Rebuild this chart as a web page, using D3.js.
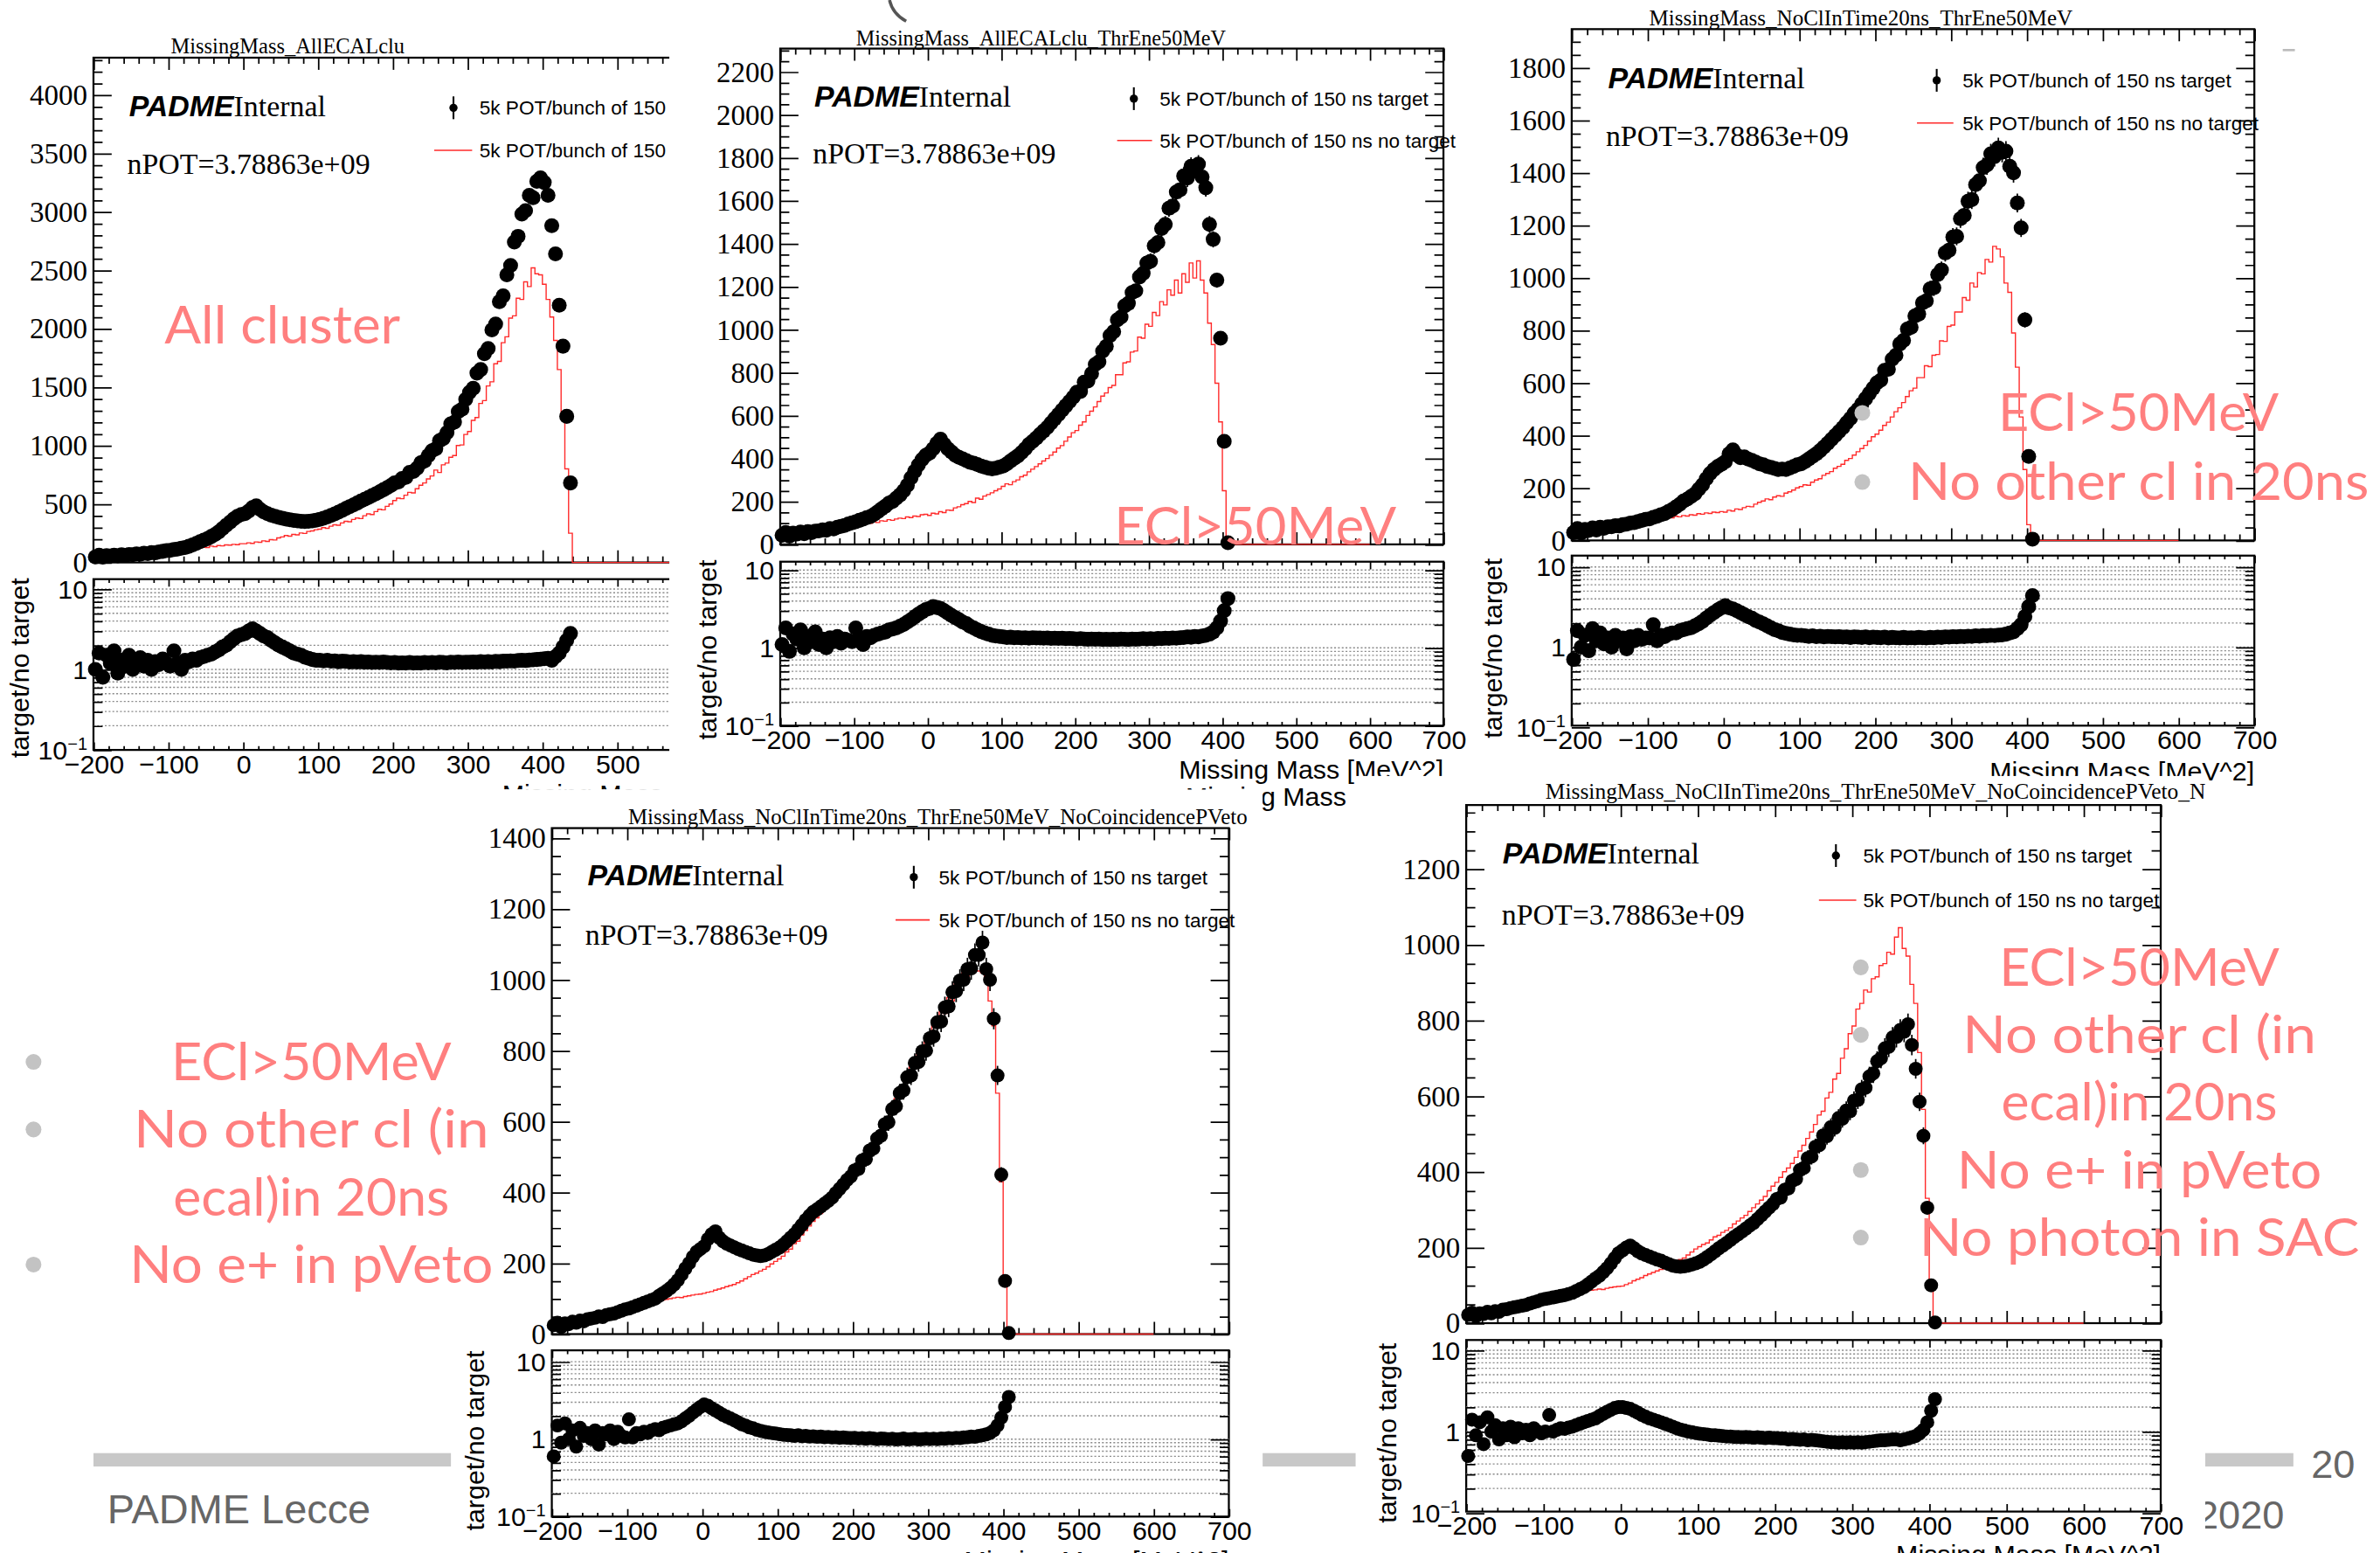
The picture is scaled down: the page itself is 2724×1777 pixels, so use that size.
<!DOCTYPE html>
<html>
<head>
<meta charset="utf-8">
<script src="https://cdn.jsdelivr.net/npm/d3@7"></script>
<style>
body { margin: 0; background: #fff; }
svg { display: block; }
</style>
</head>
<body>
<svg id="slide" width="2724" height="1777" viewBox="0 0 1568 1023"></svg>
<script>
// all histograms share the same binning (5 MeV^2 bins from -200)
var binStart = -200;
var binWidth = 5;
var histEnd = 600;

// ---- panel 1 : MissingMass_AllECALclu
var p1Target = [
  48, 62, 45, 58, 55, 63, 57, 66, 60, 68,
  66, 74, 70, 79, 76, 85, 82, 90, 95, 101,
  104, 110, 115, 122, 128, 138, 150, 163, 178, 192,
  205, 222, 240, 262, 290, 318, 345, 372, 395, 410,
  418, 440, 470, 485, 455, 432, 418, 405, 395, 385,
  378, 370, 365, 360, 356, 352, 350, 352, 355, 362,
  368, 378, 390, 402, 415, 430, 445, 462, 478, 492,
  508, 525, 540, 555, 572, 588, 605, 622, 640, 658,
  680, 688, 718, 728, 770, 778, 806, 852, 868, 915,
  955, 972, 1042, 1060, 1110, 1185, 1200, 1290, 1310, 1395,
  1455, 1490, 1620, 1650, 1785, 1830, 1990, 2040, 2230, 2280,
  2460, 2540, 2740, 2790, 2980, 3010, 3140, 3120, 3260, 3290,
  3250, 3140, 2880, 2640, 2200, 1850, 1250, 680
];
var p1NoTarget = [
  45, 55, 50, 52, 58, 55, 60, 57, 63, 62,
  65, 70, 68, 74, 72, 80, 78, 85, 88, 92,
  95, 100, 98, 108, 105, 112, 118, 115, 125, 130,
  128, 140, 135, 145, 142, 150, 148, 155, 152, 160,
  160, 168, 163, 175, 172, 185, 180, 195, 192, 210,
  218, 230, 225, 240, 236, 252, 248, 265, 270, 280,
  285, 298, 292, 310, 322, 318, 338, 352, 348, 368,
  380, 375, 400, 415, 410, 435, 455, 450, 480, 500,
  530, 550, 545, 575, 600, 595, 630, 660, 680, 715,
  740, 790, 770, 835, 850, 900, 915, 1000, 1005, 1095,
  1120, 1215, 1240, 1360, 1385, 1510, 1545, 1700, 1720, 1880,
  1930, 2090, 2110, 2260, 2250, 2400, 2360, 2520, 2470, 2460,
  2380, 2250, 2100, 1900, 1650, 1250, 800, 250
];
var p1Ratio = [
  1.0, 1.6, 0.8, 1.5, 1.2, 1.7, 0.9, 1.3, 1.1, 1.5,
  1.0, 1.2, 1.4, 1.1, 1.3, 1.0, 1.25, 1.15, 1.35, 1.2,
  1.1, 1.7, 1.2, 1.0, 1.3, 1.25, 1.35, 1.3, 1.4, 1.45,
  1.5, 1.55, 1.65, 1.75, 1.9, 2.0, 2.2, 2.4, 2.6, 2.7,
  2.8, 3.0, 3.2, 3.0, 2.8, 2.6, 2.5, 2.3, 2.15, 2.0,
  1.9, 1.8, 1.7, 1.6, 1.55, 1.5, 1.42, 1.38, 1.33, 1.3,
  1.3, 1.28, 1.3, 1.27, 1.28, 1.25, 1.27, 1.26, 1.24, 1.25,
  1.24, 1.25, 1.23, 1.24, 1.22, 1.23, 1.22, 1.24, 1.22, 1.21,
  1.22, 1.2, 1.21, 1.2, 1.22, 1.2, 1.21, 1.2, 1.22, 1.21,
  1.22, 1.21, 1.23, 1.22, 1.21, 1.23, 1.22, 1.24, 1.22, 1.23,
  1.23, 1.24, 1.23, 1.25, 1.24, 1.25, 1.24, 1.26, 1.25, 1.27,
  1.27, 1.28, 1.27, 1.29, 1.3, 1.29, 1.31, 1.32, 1.33, 1.34,
  1.36, 1.38, 1.3, 1.45, 1.6, 1.9, 2.3, 2.8
];

// ---- panel 2 : MissingMass_AllECALclu_ThrEne50MeV
var p2Target = [
  42, 55, 38, 52, 48, 58, 50, 60, 55, 62,
  63, 68, 66, 74, 72, 80, 84, 88, 95, 100,
  105, 112, 118, 125, 130, 140, 152, 165, 178, 192,
  200, 215, 230, 250, 275, 310, 340, 370, 395, 415,
  425, 445, 470, 490, 465, 445, 430, 415, 405, 398,
  390, 382, 378, 372, 365, 360, 355, 352, 355, 360,
  365, 375, 388, 400, 412, 428, 445, 465, 480, 495,
  512, 528, 545, 565, 585, 605, 625, 645, 665, 685,
  708, 712, 755, 760, 795, 838, 850, 900, 922, 972,
  990, 1045, 1058, 1110, 1122, 1172, 1180, 1245, 1262, 1310,
  1318, 1390, 1405, 1470, 1490, 1565, 1575, 1640, 1650, 1715,
  1705, 1760, 1745, 1770, 1710, 1660, 1490, 1420, 1230, 960,
  480, 8
];
var p2NoTarget = [
  40, 50, 45, 48, 52, 55, 52, 58, 56, 60,
  62, 65, 70, 68, 75, 72, 78, 82, 80, 88,
  90, 95, 92, 100, 98, 105, 102, 110, 108, 115,
  112, 118, 122, 120, 128, 125, 132, 130, 138, 140,
  135, 145, 142, 152, 148, 160, 158, 170, 175, 185,
  190, 200, 195, 215, 210, 225, 232, 240, 250, 258,
  270, 282, 278, 292, 300, 315, 322, 338, 350, 362,
  375, 388, 400, 415, 430, 448, 460, 480, 500, 520,
  530, 555, 570, 600, 620, 640, 665, 690, 705, 730,
  740, 790, 790, 845, 850, 895, 900, 965, 960, 1025,
  1015, 1080, 1065, 1130, 1115, 1185, 1160, 1230, 1170, 1260,
  1220, 1310, 1240, 1320, 1230, 1170, 1030, 930, 750, 570,
  250, 0
];
var p2Ratio = [
  1.1, 1.8, 0.9, 1.5, 1.3, 1.7, 1.0, 1.4, 1.2, 1.6,
  1.1, 1.3, 1.0, 1.35, 1.2, 1.4, 1.15, 1.3, 1.25, 1.2,
  1.8, 1.3, 1.1, 1.4, 1.35, 1.45, 1.5, 1.55, 1.6, 1.7,
  1.75, 1.8, 1.9, 2.0, 2.15, 2.3, 2.5, 2.7, 2.9, 3.1,
  3.2, 3.4, 3.3, 3.2, 3.0, 2.8, 2.6, 2.45, 2.3, 2.15,
  2.05, 1.9, 1.8, 1.7, 1.62, 1.55, 1.5, 1.45, 1.42, 1.4,
  1.38, 1.36, 1.37, 1.35, 1.36, 1.34, 1.35, 1.33, 1.35, 1.34,
  1.34, 1.33, 1.34, 1.32, 1.33, 1.32, 1.33, 1.31, 1.32, 1.31,
  1.3, 1.31, 1.3, 1.29, 1.3, 1.29, 1.3, 1.28, 1.29, 1.28,
  1.29, 1.28, 1.3, 1.29, 1.28, 1.3, 1.29, 1.3, 1.31, 1.3,
  1.31, 1.3, 1.32, 1.31, 1.33, 1.32, 1.34, 1.33, 1.35, 1.36,
  1.38, 1.37, 1.4, 1.38, 1.42, 1.45, 1.5, 1.6, 1.8, 2.2,
  3.0, 4.3
];

// ---- panel 3 : MissingMass_NoClInTime20ns_ThrEne50MeV
var p3Target = [
  30, 45, 28, 42, 38, 48, 40, 50, 46, 52,
  52, 56, 55, 60, 62, 66, 68, 72, 76, 80,
  82, 88, 92, 98, 102, 110, 118, 128, 138, 150,
  158, 168, 178, 195, 212, 235, 255, 270, 282, 290,
  300, 330, 345, 325, 315, 318, 310, 305, 298, 292,
  288, 282, 278, 274, 270, 272, 270, 276, 282, 288,
  292, 300, 310, 320, 330, 342, 356, 370, 385, 400,
  415, 430, 448, 465, 485, 500, 520, 540, 560, 580,
  600, 610, 648, 652, 690, 705, 748, 762, 805, 812,
  855, 862, 905, 912, 958, 962, 1012, 1030, 1095, 1105,
  1155, 1158, 1225, 1238, 1292, 1298, 1355, 1370, 1420, 1430,
  1472, 1462, 1495, 1478, 1482, 1425, 1400, 1285, 1190, 840,
  320, 5
];
var p3NoTarget = [
  30, 40, 35, 38, 42, 40, 45, 43, 48, 50,
  52, 50, 56, 58, 60, 62, 65, 68, 70, 74,
  76, 80, 78, 84, 82, 88, 86, 92, 90, 95,
  93, 98, 96, 102, 100, 105, 103, 108, 106, 110,
  108, 115, 112, 120, 118, 125, 130, 128, 138, 145,
  150, 158, 155, 165, 170, 168, 180, 185, 192, 200,
  205, 212, 210, 222, 230, 235, 248, 255, 262, 275,
  282, 290, 305, 312, 325, 338, 350, 362, 378, 395,
  405, 420, 438, 450, 470, 490, 505, 525, 548, 570,
  580, 620, 620, 665, 662, 705, 708, 760, 758, 815,
  820, 870, 870, 925, 915, 980, 965, 1020, 1015, 1070,
  1060, 1120, 1110, 1080, 980, 945, 790, 660, 470, 270,
  60, 0
];
var p3Ratio = [
  0.7, 1.6, 1.0, 1.4, 0.9, 1.7, 1.2, 1.5, 1.1, 1.3,
  1.0, 1.4, 1.2, 1.3, 0.95, 1.35, 1.2, 1.4, 1.25, 1.3,
  1.3, 1.9, 1.2, 1.4, 1.35, 1.45, 1.5, 1.5, 1.6, 1.65,
  1.7, 1.75, 1.85, 1.95, 2.1, 2.3, 2.5, 2.7, 2.9, 3.1,
  3.3, 3.1, 3.0, 2.85, 2.7, 2.55, 2.4, 2.3, 2.15, 2.05,
  1.95, 1.85, 1.75, 1.65, 1.6, 1.52, 1.48, 1.45, 1.42, 1.4,
  1.4, 1.38, 1.36, 1.38, 1.35, 1.37, 1.34, 1.36, 1.35, 1.34,
  1.35, 1.33, 1.34, 1.32, 1.34, 1.33, 1.32, 1.34, 1.31, 1.33,
  1.32, 1.31, 1.33, 1.3, 1.32, 1.31, 1.3, 1.32, 1.3, 1.31,
  1.3, 1.32, 1.31, 1.3, 1.32, 1.31, 1.33, 1.32, 1.34, 1.33,
  1.35, 1.34, 1.36, 1.35, 1.37, 1.36, 1.38, 1.37, 1.39, 1.38,
  1.4, 1.39, 1.41, 1.42, 1.45, 1.5, 1.55, 1.7, 1.9, 2.4,
  3.2, 4.4
];

// ---- panel 4 : ..._NoCoincidencePVeto
var p4Target = [
  25, 32, 20, 30, 28, 35, 32, 38, 36, 42,
  44, 46, 50, 48, 54, 56, 58, 62, 66, 70,
  72, 76, 80, 84, 88, 92, 96, 100, 108, 115,
  122, 130, 140, 152, 168, 185, 200, 218, 232, 240,
  248, 268, 282, 290, 272, 262, 255, 250, 245, 240,
  236, 232, 228, 224, 222, 220, 222, 226, 232, 238,
  244, 252, 262, 272, 282, 295, 308, 322, 334, 345,
  352, 360, 368, 376, 385, 398, 410, 422, 435, 445,
  462, 466, 490, 494, 518, 524, 552, 560, 592, 598,
  635, 643, 680, 688, 725, 730, 765, 768, 798, 800,
  835, 840, 880, 882, 922, 925, 965, 968, 998, 1000,
  1030, 1032, 1070, 1070, 1105, 1030, 1000, 890, 730, 450,
  150, 3
];
var p4NoTarget = [
  24, 30, 26, 28, 32, 30, 34, 36, 35, 40,
  42, 45, 47, 50, 52, 55, 57, 60, 63, 68,
  70, 72, 76, 78, 82, 85, 88, 90, 94, 96,
  98, 100, 102, 104, 103, 106, 108, 110, 112, 113,
  115, 118, 120, 124, 127, 130, 134, 137, 140, 145,
  150, 156, 162, 168, 172, 178, 183, 190, 198, 205,
  212, 220, 232, 240, 255, 262, 280, 292, 305, 318,
  328, 340, 352, 362, 375, 390, 402, 418, 430, 445,
  455, 472, 485, 500, 515, 535, 550, 572, 590, 612,
  625, 665, 668, 705, 712, 755, 750, 795, 790, 830,
  822, 870, 865, 910, 905, 950, 940, 990, 985, 1020,
  1010, 1045, 1030, 1025, 1020, 1000, 940, 870, 680, 430,
  140, 0
];
var p4Ratio = [
  0.6, 1.5, 0.9, 1.6, 1.0, 1.3, 0.8, 1.4, 1.1, 1.2,
  1.0, 1.3, 0.85, 1.2, 1.15, 1.3, 1.0, 1.25, 1.1, 1.05,
  1.8, 1.05, 1.2, 1.15, 1.25, 1.2, 1.3, 1.35, 1.3, 1.4,
  1.45, 1.5, 1.55, 1.6, 1.7, 1.85, 2.0, 2.2, 2.4, 2.6,
  2.8, 2.7, 2.5, 2.35, 2.2, 2.05, 1.95, 1.85, 1.75, 1.65,
  1.55, 1.5, 1.42, 1.38, 1.32, 1.28, 1.25, 1.22, 1.2, 1.18,
  1.16, 1.14, 1.13, 1.12, 1.1, 1.12, 1.09, 1.1, 1.08, 1.09,
  1.07, 1.08, 1.06, 1.07, 1.05, 1.06, 1.04, 1.05, 1.04, 1.03,
  1.04, 1.02, 1.03, 1.01, 1.03, 1.02, 1.0, 1.02, 1.01, 1.0,
  1.01, 0.99, 1.0, 1.02, 0.99, 1.0, 1.01, 0.99, 1.0, 1.01,
  1.0, 1.01, 1.0, 1.02, 1.01, 1.03, 1.02, 1.04, 1.03, 1.05,
  1.06, 1.08, 1.07, 1.1, 1.12, 1.15, 1.2, 1.3, 1.5, 1.9,
  2.6, 3.5
];

// ---- panel 5 : ..._NoCoincidencePVeto_N(o SAC)
var p5Target = [
  22, 28, 18, 26, 24, 30, 26, 32, 30, 36,
  37, 40, 42, 44, 46, 48, 52, 55, 58, 62,
  64, 66, 68, 70, 72, 74, 77, 80, 85, 90,
  95, 102, 110, 118, 125, 135, 145, 158, 172, 185,
  192, 200, 205, 198, 190, 184, 180, 176, 172, 168,
  165, 160, 156, 152, 150, 149, 150, 152, 155, 158,
  162, 168, 175, 182, 190, 198, 205, 212, 220, 228,
  235, 242, 250, 258, 265, 275, 285, 295, 305, 315,
  328, 332, 352, 356, 376, 381, 405, 410, 436, 440,
  466, 470, 496, 494, 518, 516, 542, 540, 562, 560,
  588, 590, 618, 622, 652, 660, 692, 700, 726, 730,
  755, 756, 775, 770, 790, 735, 672, 585, 495, 305,
  100, 2
];
var p5NoTarget = [
  22, 26, 24, 28, 27, 30, 32, 31, 35, 38,
  40, 42, 45, 48, 50, 54, 56, 60, 64, 68,
  70, 72, 74, 76, 78, 80, 81, 82, 84, 85,
  85, 86, 87, 88, 90, 89, 92, 94, 96, 97,
  98, 102, 106, 112, 116, 120, 126, 130, 134, 138,
  142, 146, 150, 155, 160, 168, 172, 180, 188, 196,
  202, 208, 212, 220, 228, 232, 240, 245, 252, 262,
  270, 278, 285, 295, 305, 315, 325, 335, 350, 362,
  372, 385, 400, 410, 422, 438, 455, 470, 488, 505,
  525, 550, 560, 595, 610, 645, 660, 700, 725, 765,
  785, 830, 845, 880, 875, 910, 915, 945, 950, 980,
  975, 1020, 1045, 990, 970, 895, 845, 715, 565, 330,
  100, 0
];
var p5Ratio = [
  0.5, 1.4, 0.9, 1.3, 0.7, 1.5, 1.0, 1.2, 0.8, 1.1,
  0.9, 1.15, 0.85, 1.1, 0.95, 1.05, 0.9, 1.1, 1.0, 0.95,
  1.0, 1.6, 1.0, 1.05, 1.1, 1.08, 1.12, 1.15, 1.2, 1.25,
  1.3, 1.35, 1.4, 1.45, 1.55, 1.65, 1.75, 1.85, 1.95, 2.0,
  2.0, 1.95, 1.9, 1.8, 1.7, 1.6, 1.52, 1.45, 1.4, 1.35,
  1.3, 1.25, 1.2, 1.15, 1.1, 1.06, 1.03, 1.0, 0.98, 0.96,
  0.94, 0.93, 0.92, 0.9, 0.9, 0.89, 0.88, 0.87, 0.87, 0.86,
  0.86, 0.85, 0.86, 0.85, 0.84, 0.85, 0.84, 0.83, 0.84, 0.83,
  0.83, 0.82, 0.82, 0.8, 0.81, 0.8, 0.79, 0.8, 0.78, 0.79,
  0.78, 0.77, 0.76, 0.75, 0.74, 0.74, 0.73, 0.74, 0.73, 0.74,
  0.73, 0.74, 0.73, 0.74, 0.75, 0.76, 0.77, 0.78, 0.78, 0.79,
  0.8, 0.8, 0.78, 0.8, 0.82, 0.85, 0.88, 0.95, 1.05, 1.3,
  1.8, 2.5
];

// texts
var legendTarget = "5k POT/bunch of 150 ns target";
var legendNoTarget = "5k POT/bunch of 150 ns no target";
var nPOT = "nPOT=3.78863e+09";
var xTitle = "Missing Mass [MeV^2]";
var yTitle = "target/no target";

var noteAll = ["All cluster"];
var noteThr = ["ECl>50MeV"];
var noteNoCl = ["ECl>50MeV", "No other cl in 20ns"];
var noteVeto = ["ECl>50MeV", "No other cl (in", "ecal)in 20ns", "No e+ in pVeto"];
var noteSac = ["ECl>50MeV", "No other cl (in", "ecal)in 20ns", "No e+ in pVeto", "No photon in SAC"];

var serif = "'Liberation Serif', 'DejaVu Serif', serif";
var sans = "'Liberation Sans', Arial, sans-serif";
var gill = "Lato, 'Open Sans', sans-serif";

// where every pasted plot sits on the slide (slide units 1568 x 1023)
var panels = [
  { id: 1, title: "MissingMass_AllECALclu", titleX: 189.5, titleY: 35, titleW: 154,
    target: p1Target, noTarget: p1NoTarget, ratio: p1Ratio,
    clip: [0, 0, 441, 520], l: 61.5, r: 505.2, t: 38, b: 370.5, yMax: 4318, major: 500, minor: 100,
    rt: 381.5, rb: 494, y10: 388, y01: 494, xTitleY: 529, yTitleX: 13, yTitleY: 440,
    mx: 298.7, my: 71, lx1: 286, lx2: 311, ly: 99, tx: 315.8,
    padX: 85, padY: 69.4, npX: 83.7, npY: 107.4, mr: 4.9 },
  { id: 2, title: "MissingMass_AllECALclu_ThrEne50MeV", titleX: 685.8, titleY: 29.8, titleW: 243.6,
    target: p2Target, noTarget: p2NoTarget, ratio: p2Ratio,
    clip: [441, 0, 527, 540], l: 514, r: 951, t: 32, b: 358.6, yMax: 2308, major: 200, minor: 50,
    rt: 370, rb: 478, y10: 375.5, y01: 478, xTitleY: 513, yTitleX: 466, yTitleY: 428,
    mx: 747, my: 65, lx1: 736, lx2: 759, ly: 92.5, tx: 764,
    padX: 536.5, padY: 63, npX: 535.5, npY: 100.8, mr: 4.9, extraTitle: [887, 531] },
  { id: 3, title: "MissingMass_NoClInTime20ns_ThrEne50MeV", titleX: 1226, titleY: 16.6, titleW: 279,
    target: p3Target, noTarget: p3NoTarget, ratio: p3Ratio,
    clip: [968, 0, 600, 520], l: 1035.5, r: 1485.3, t: 19.2, b: 356, yMax: 1947, major: 200, minor: 50,
    rt: 366, rb: 478, y10: 373.5, y01: 479, xTitleY: 514, yTitleX: 983.5, yTitleY: 427,
    mx: 1276, my: 52.9, lx1: 1263, lx2: 1287, ly: 81, tx: 1293,
    padX: 1059.5, padY: 51, npX: 1058, npY: 89.2, mr: 4.9 },
  { id: 4, title: "MissingMass_NoClInTime20ns_ThrEne50MeV_NoCoincidencePVeto", titleX: 617.8, titleY: 542.9, titleW: 408,
    target: p4Target, noTarget: p4NoTarget, ratio: p4Ratio,
    clip: [297, 520, 535, 503], l: 363.5, r: 809.6, t: 545.5, b: 878.8, yMax: 1428, major: 200, minor: 50,
    rt: 889.5, rb: 999, y10: 897, y01: 999, xTitleY: 1034, yTitleX: 312.8, yTitleY: 949,
    mx: 602, my: 577.8, lx1: 590, lx2: 612.5, ly: 606, tx: 618.5,
    padX: 387, padY: 576.4, npX: 385.5, npY: 615.3, mr: 4.6 },
  { id: 5, title: "MissingMass_NoClInTime20ns_ThrEne50MeV_NoCoincidencePVeto_N", titleX: 1235.7, titleY: 526.4, titleW: 435,
    target: p5Target, noTarget: p5NoTarget, ratio: p5Ratio,
    clip: [893, 511, 560, 512], l: 966, r: 1423.6, t: 530.3, b: 871.6, yMax: 1369, major: 200, minor: 50,
    rt: 882.7, rb: 995.7, y10: 889.4, y01: 996.6, xTitleY: 1030, yTitleX: 913.7, yTitleY: 944,
    mx: 1209.6, my: 563.6, lx1: 1198.4, lx2: 1223, ly: 593, tx: 1227.6,
    padX: 990, padY: 561.6, npX: 989.4, npY: 602.2, mr: 4.6 }
];

var notes = [
  { lines: noteAll, cx: 186, y0: 226, dy: 45, widths: [155.4], bullets: [], bx: 0 },
  { lines: noteThr, cx: 827, y0: 358.6, dy: 45, widths: [186], bullets: [], bx: 0 },
  { lines: noteNoCl, cx: 1409, y0: 284, dy: 45.5, widths: [185, 303.5], bullets: [0, 1], bx: 1227 },
  { lines: noteVeto, cx: 205, y0: 711.5, dy: 44.5, widths: [184.6, 234, 182, 239.6], bullets: [0, 1, 3], bx: 22 },
  { lines: noteSac, cx: 1409.5, y0: 649.2, dy: 44.5, widths: [184.6, 233, 182, 240.5, 290], bullets: [0, 1, 3, 4], bx: 1226 }
];

var svg = d3.select("#slide");
var defs = svg.append("defs");

svg.append("rect").attr("width", 1568).attr("height", 1023).attr("fill", "#fff");

// slide footer (under the plots)
svg.append("rect")
  .attr("x", 61.5).attr("y", 957.2)
  .attr("width", 1449.5).attr("height", 8.8)
  .attr("fill", "#c8c8c8");
svg.append("text")
  .attr("x", 70.6).attr("y", 1003.6)
  .attr("font-family", sans).attr("font-size", 27).attr("fill", "#666")
  .text("PADME Lecce");
svg.append("text")
  .attr("x", 1522.7).attr("y", 973.3)
  .attr("font-family", sans).attr("font-size", 26).attr("fill", "#666")
  .text("20");
svg.append("text")
  .attr("x", 1505).attr("y", 1006.8).attr("text-anchor", "end")
  .attr("font-family", sans).attr("font-size", 26).attr("fill", "#666")
  .text("2020");

function fmtX(d) {
  return d < 0 ? "\u2212" + Math.abs(d) : String(d);
}

function tickAxis(g, gen, tr, vals, len, fmt, pad) {
  gen.tickValues(vals)
    .tickSizeInner(-len)
    .tickSizeOuter(0)
    .tickPadding(pad || 3)
    .tickFormat(fmt || function() { return ""; });
  var s = g.append("g").attr("transform", tr).call(gen);
  s.select(".domain").remove();
  s.selectAll("line").attr("stroke", "#000").attr("stroke-width", 1);
  return s;
}

function drawPanel(p) {
  defs.append("clipPath").attr("id", "clip" + p.id)
    .append("rect")
    .attr("x", p.clip[0]).attr("y", p.clip[1])
    .attr("width", p.clip[2]).attr("height", p.clip[3]);

  var g = svg.append("g").attr("clip-path", "url(#clip" + p.id + ")");
  g.append("rect")
    .attr("x", p.clip[0]).attr("y", p.clip[1])
    .attr("width", p.clip[2]).attr("height", p.clip[3])
    .attr("fill", "#fff");

  var x = d3.scaleLinear().domain([-200, 700]).range([p.l, p.r]);
  var y = d3.scaleLinear().domain([0, p.yMax]).range([p.b, p.t]);
  var yr = d3.scaleLog().domain([0.1, 10]).range([p.y01, p.y10]);

  var xMaj = d3.range(-200, 701, 100);
  var xMin = d3.range(-200, 701, 20).filter(function(v) { return v % 100 !== 0; });
  var yMaj = d3.range(0, p.yMax + 1, p.major);
  var yMin = d3.range(0, p.yMax, p.minor).filter(function(v) { return v % p.major !== 0; });
  var rMaj = [0.1, 1, 10];
  var rMin = d3.range(2, 10).map(function(k) { return k / 10; }).concat(d3.range(2, 10));

  // title
  g.append("text")
    .attr("x", p.titleX).attr("y", p.titleY)
    .attr("text-anchor", "middle")
    .attr("font-family", serif).attr("font-size", 14)
    .attr("textLength", p.titleW).attr("lengthAdjust", "spacingAndGlyphs")
    .text(p.title);

  // ---- upper pad
  g.append("rect")
    .attr("x", p.l).attr("y", p.t)
    .attr("width", p.r - p.l).attr("height", p.b - p.t)
    .attr("fill", "none").attr("stroke", "#000").attr("stroke-width", 1.3);

  var ly = tickAxis(g, d3.axisLeft(y), "translate(" + p.l + ",0)", yMaj, 12, d3.format("d"), 4);
  ly.attr("font-family", serif).attr("font-size", 19);
  ly.selectAll("text").attr("fill", "#000");
  tickAxis(g, d3.axisLeft(y), "translate(" + p.l + ",0)", yMin, 6);
  tickAxis(g, d3.axisRight(y), "translate(" + p.r + ",0)", yMaj, 12);
  tickAxis(g, d3.axisRight(y), "translate(" + p.r + ",0)", yMin, 6);
  tickAxis(g, d3.axisBottom(x), "translate(0," + p.b + ")", xMaj, 8);
  tickAxis(g, d3.axisBottom(x), "translate(0," + p.b + ")", xMin, 4);
  tickAxis(g, d3.axisTop(x), "translate(0," + p.t + ")", xMaj, 8);
  tickAxis(g, d3.axisTop(x), "translate(0," + p.t + ")", xMin, 4);

  // no-target histogram (red steps)
  var steps = p.noTarget.map(function(v, i) { return [binStart + i * binWidth, v]; });
  steps.push([binStart + p.noTarget.length * binWidth, 0]);
  steps.push([histEnd, 0]);
  var stepLine = d3.line()
    .x(function(d) { return x(d[0]); })
    .y(function(d) { return y(d[1]); })
    .curve(d3.curveStepAfter);
  g.append("path")
    .attr("d", stepLine(steps))
    .attr("fill", "none")
    .attr("stroke", "#ff2a2a")
    .attr("stroke-width", 0.8);

  // target points with errors
  var pts = g.append("g");
  pts.selectAll("line")
    .data(p.target)
    .enter()
    .append("line")
    .attr("x1", function(d, i) { return x(binStart + (i + 0.5) * binWidth); })
    .attr("x2", function(d, i) { return x(binStart + (i + 0.5) * binWidth); })
    .attr("y1", function(d) { return y(d + Math.sqrt(d)); })
    .attr("y2", function(d) { return y(Math.max(0, d - Math.sqrt(d))); })
    .attr("stroke", "#000").attr("stroke-width", 1);
  pts.selectAll("circle")
    .data(p.target)
    .enter()
    .append("circle")
    .attr("cx", function(d, i) { return x(binStart + (i + 0.5) * binWidth); })
    .attr("cy", function(d) { return y(d); })
    .attr("r", p.mr)
    .attr("fill", "#000");

  // legend
  g.append("line")
    .attr("x1", p.mx).attr("x2", p.mx)
    .attr("y1", p.my - 7.5).attr("y2", p.my + 7.5)
    .attr("stroke", "#000").attr("stroke-width", 1.2);
  g.append("circle").attr("cx", p.mx).attr("cy", p.my).attr("r", 2.7).attr("fill", "#000");
  g.append("text")
    .attr("x", p.tx).attr("y", p.my + 4.6)
    .attr("font-family", sans).attr("font-size", 13)
    .text(legendTarget);
  g.append("line")
    .attr("x1", p.lx1).attr("x2", p.lx2)
    .attr("y1", p.ly).attr("y2", p.ly)
    .attr("stroke", "#ff2a2a").attr("stroke-width", 0.9);
  g.append("text")
    .attr("x", p.tx).attr("y", p.ly + 4.6)
    .attr("font-family", sans).attr("font-size", 13)
    .text(legendNoTarget);

  var pad = g.append("text")
    .attr("x", p.padX).attr("y", p.padY + 7)
    .attr("font-size", 19.5);
  pad.append("tspan")
    .attr("font-family", sans).attr("font-weight", "bold").attr("font-style", "italic")
    .text("PADME");
  pad.append("tspan").attr("font-family", serif).text("Internal");

  g.append("text")
    .attr("x", p.npX).attr("y", p.npY + 7)
    .attr("font-family", serif).attr("font-size", 19.5)
    .text(nPOT);

  // ---- ratio pad
  g.append("rect")
    .attr("x", p.l).attr("y", p.rt)
    .attr("width", p.r - p.l).attr("height", p.rb - p.rt)
    .attr("fill", "none").attr("stroke", "#000").attr("stroke-width", 1.3);

  g.append("g").selectAll("line")
    .data(rMin.concat([1, 10]))
    .enter()
    .append("line")
    .attr("x1", p.l).attr("x2", p.r)
    .attr("y1", function(d) { return yr(d); })
    .attr("y2", function(d) { return yr(d); })
    .attr("stroke", "#8c8c8c").attr("stroke-width", 0.8)
    .attr("stroke-dasharray", "1.2,1.3");

  var ry = tickAxis(g, d3.axisLeft(yr), "translate(" + p.l + ",0)", rMaj, 12,
    function(d) { return d === 1 ? "1" : "10"; }, 4);
  ry.attr("font-family", sans).attr("font-size", 17.5);
  ry.selectAll("text").attr("fill", "#000");
  ry.selectAll("text")
    .filter(function(d) { return d === 0.1; })
    .append("tspan")
    .attr("dy", "-0.55em")
    .attr("font-size", 11.5)
    .text("\u22121");
  tickAxis(g, d3.axisLeft(yr), "translate(" + p.l + ",0)", rMin, 6);
  tickAxis(g, d3.axisRight(yr), "translate(" + p.r + ",0)", rMaj, 12);
  tickAxis(g, d3.axisRight(yr), "translate(" + p.r + ",0)", rMin, 6);

  var rx = tickAxis(g, d3.axisBottom(x), "translate(0," + p.rb + ")", xMaj, 5, fmtX, 3);
  rx.attr("font-family", sans).attr("font-size", 17.5);
  rx.selectAll("text").attr("fill", "#000");
  tickAxis(g, d3.axisBottom(x), "translate(0," + p.rb + ")", xMin, 2.5);
  tickAxis(g, d3.axisTop(x), "translate(0," + p.rt + ")", xMaj, 5);
  tickAxis(g, d3.axisTop(x), "translate(0," + p.rt + ")", xMin, 2.5);

  g.append("g").selectAll("circle")
    .data(p.ratio)
    .enter()
    .append("circle")
    .attr("cx", function(d, i) { return x(binStart + (i + 0.5) * binWidth); })
    .attr("cy", function(d) { return yr(d); })
    .attr("r", p.mr)
    .attr("fill", "#000");

  // axis titles
  g.append("text")
    .attr("x", p.r).attr("y", p.xTitleY)
    .attr("text-anchor", "end")
    .attr("font-family", sans).attr("font-size", 17.5)
    .text(xTitle);
  if (p.extraTitle) {
    g.append("text")
      .attr("x", p.extraTitle[0]).attr("y", p.extraTitle[1])
      .attr("text-anchor", "end")
      .attr("font-family", sans).attr("font-size", 17.5)
      .text("Missing Mass");
  }
  g.append("text")
    .attr("transform", "translate(" + p.yTitleX + "," + p.yTitleY + ") rotate(-90)")
    .attr("text-anchor", "middle").attr("dy", "0.35em")
    .attr("font-family", sans).attr("font-size", 17.5)
    .text(yTitle);
}

panels.forEach(drawPanel);

// salmon annotations written over the plots
notes.forEach(function(n) {
  n.lines.forEach(function(line, i) {
    svg.append("text")
      .attr("x", n.cx).attr("y", n.y0 + i * n.dy)
      .attr("text-anchor", "middle")
      .attr("font-family", gill).attr("font-size", 35)
      .attr("fill", "#ff7f7f")
      .attr("textLength", n.widths[i]).attr("lengthAdjust", "spacingAndGlyphs")
      .text(line);
  });
  n.bullets.forEach(function(i) {
    svg.append("circle")
      .attr("cx", n.bx).attr("cy", n.y0 + i * n.dy - 12)
      .attr("r", 5.2)
      .attr("fill", "#c3c3c3");
  });
});

// bits of the slide peeking out
svg.append("path")
  .attr("d", "M586,0 Q588,9 597,14")
  .attr("fill", "none").attr("stroke", "#555").attr("stroke-width", 2);
svg.append("line")
  .attr("x1", 1504).attr("x2", 1512).attr("y1", 33).attr("y2", 33)
  .attr("stroke", "#bbb").attr("stroke-width", 1.5);
</script>
</body>
</html>
